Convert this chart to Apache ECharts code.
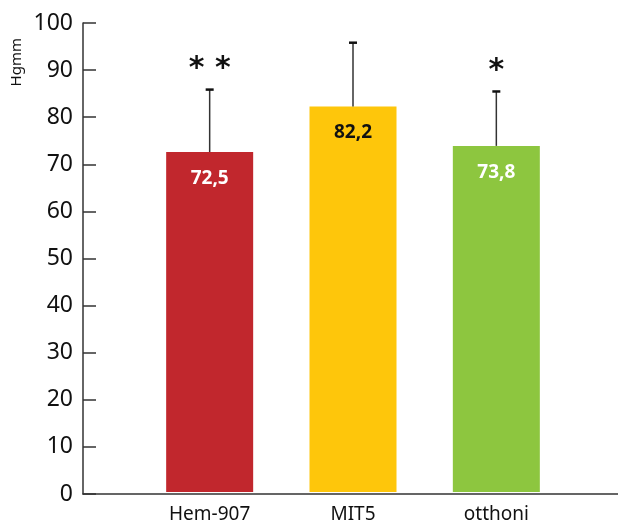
<!DOCTYPE html>
<html>
<head>
<meta charset="utf-8">
<script src="https://cdn.jsdelivr.net/npm/echarts@6/dist/echarts.min.js"></script>
<style>
  html, body { margin: 0; padding: 0; background: #fff; }
  #chart { width: 618px; height: 524px; }
</style>
</head>
<body>
<div id="chart"></div>
<script>
// Measured blood pressure by method (mmHg), mean ± SD
const categories = ['Hem-907', 'MIT5', 'otthoni'];
const means = [72.5, 82.2, 73.8];
const sds = [13.3, 13.6, 11.6];
const significance = ['* *', '', '*'];
const barColors = ['#C1272D', '#FEC60B', '#8DC63F'];
const labelColors = ['#ffffff', '#111111', '#ffffff'];
const yTicks = [0, 10, 20, 30, 40, 50, 60, 70, 80, 90, 100];

const chart = echarts.init(document.getElementById('chart'));

const barData = means.map((v, i) => ({
  value: v,
  itemStyle: { color: barColors[i] },
  label: { color: labelColors[i] }
}));

const errData = means.map((v, i) => [i, v, v + sds[i]]);

chart.setOption({
  animation: false,
  grid: [
    // frame grid carrying the visible axes
    { left: 83, right: 0, top: 23, bottom: 30 },
    // plotting grid for the bars
    { left: 138, right: 50, top: 23, bottom: 30 }
  ],
  xAxis: [
    {
      gridIndex: 0, type: 'value', min: 0, max: 1,
      axisLine: { show: true, onZero: false, lineStyle: { color: '#333', width: 1.5 } },
      axisTick: { show: false }, axisLabel: { show: false }, splitLine: { show: false }
    },
    {
      gridIndex: 1, type: 'category', data: categories,
      axisLine: { show: false }, axisTick: { show: false },
      axisLabel: { color: '#111', fontFamily: 'Noto Sans', fontSize: 19, margin: 13 }
    }
  ],
  yAxis: [
    {
      gridIndex: 0, type: 'value', min: 0, max: 100, interval: 10,
      axisLine: { show: true, lineStyle: { color: '#333', width: 1.5 } },
      axisTick: { show: true, inside: true, length: 13, lineStyle: { color: '#333', width: 1.5 } },
      axisLabel: {
        color: '#111', fontFamily: 'Noto Sans', fontSize: 23, margin: 10,
        customValues: yTicks
      },
      splitLine: { show: false }
    },
    {
      gridIndex: 1, type: 'value', min: 0, max: 100, interval: 10, show: false
    }
  ],
  graphic: [{
    type: 'text', left: 9, top: 38, rotation: Math.PI / 2,
    style: { text: 'Hgmm', fill: '#111', font: '15px "Noto Sans"' }
  }],
  series: [
    {
      type: 'bar', xAxisIndex: 1, yAxisIndex: 1,
      data: barData, barWidth: 87,
      label: {
        show: true, position: 'insideTop', distance: 17,
        fontFamily: 'Open Sans', fontWeight: 'bold', fontSize: 19,
        formatter: p => String(p.value).replace('.', ',')
      },
      z: 2
    },
    {
      type: 'custom', xAxisIndex: 1, yAxisIndex: 1,
      data: errData,
      z: 3,
      renderItem: function (params, api) {
        const x = api.coord([api.value(0), api.value(1)])[0];
        const yLow = api.coord([api.value(0), api.value(1)])[1];
        const yHigh = api.coord([api.value(0), api.value(2)])[1];
        const star = significance[params.dataIndex];
        const children = [
          { type: 'line', shape: { x1: x, y1: yLow, x2: x, y2: yHigh },
            style: { stroke: '#333', lineWidth: 1.5 } },
          { type: 'line', shape: { x1: x - 4, y1: yHigh, x2: x + 4, y2: yHigh },
            style: { stroke: '#111', lineWidth: 2.5 } }
        ];
        if (star) {
          children.push({
            type: 'text', x: x, y: yHigh - 5,
            style: { text: star, fill: '#111', font: 'bold 30px "DejaVu Sans"',
                     align: 'center', verticalAlign: 'bottom' }
          });
        }
        return { type: 'group', children: children };
      }
    }
  ]
});
</script>
</body>
</html>
